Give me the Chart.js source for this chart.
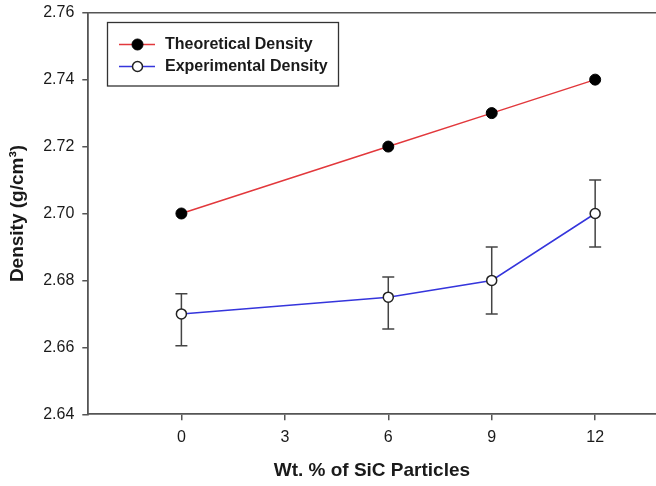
<!DOCTYPE html>
<html>
<head>
<meta charset="utf-8">
<script src="https://cdn.jsdelivr.net/npm/chart.js@4"></script>
<style>
  html, body { margin: 0; padding: 0; background: #fff; }
  #wrap { width: 656px; height: 486px; overflow: hidden; }
  #c { display: block; }
</style>
</head>
<body>
<div id="wrap"><canvas id="c" width="662" height="486"></canvas></div>
<script>
// SiC content (wt.%) and measured / calculated densities (g/cm3)
const sicContent = [0, 6, 9, 12];
const theoreticalDensity = [2.70, 2.72, 2.73, 2.74];
const experimentalDensity = [2.670, 2.675, 2.680, 2.700];
const experimentalLow = [2.6605, 2.6655, 2.670, 2.690];
const experimentalHigh = [2.676, 2.681, 2.690, 2.710];
const xTicks = [0, 3, 6, 9, 12];
const yTicks = [2.64, 2.66, 2.68, 2.70, 2.72, 2.74, 2.76];
const seriesNames = ['Theoretical Density', 'Experimental Density'];

const FONT = "Arial, 'Liberation Sans', Helvetica, sans-serif";
const AXIS = '#555';
const INK = '#1a1a1a';

// vertical error bars with caps, drawn under the markers
const errorBars = {
  id: 'errorBars',
  beforeDatasetsDraw(chart) {
    const { ctx, scales: { x, y } } = chart;
    ctx.save();
    ctx.strokeStyle = '#444';
    ctx.lineWidth = 1.5;
    sicContent.forEach((v, i) => {
      const px = x.getPixelForValue(v);
      const lo = y.getPixelForValue(experimentalLow[i]);
      const hi = y.getPixelForValue(experimentalHigh[i]);
      ctx.beginPath();
      ctx.moveTo(px, lo); ctx.lineTo(px, hi);
      ctx.moveTo(px - 6, lo); ctx.lineTo(px + 6, lo);
      ctx.moveTo(px - 6, hi); ctx.lineTo(px + 6, hi);
      ctx.stroke();
    });
    ctx.restore();
  }
};

// top frame line and the boxed legend in the upper-left corner
const frameAndLegend = {
  id: 'frameAndLegend',
  afterDraw(chart) {
    const { ctx, chartArea } = chart;
    ctx.save();
    ctx.strokeStyle = AXIS;
    ctx.lineWidth = 1.6;
    ctx.beginPath();
    ctx.moveTo(chartArea.left, chartArea.top);
    ctx.lineTo(chart.width, chartArea.top);
    ctx.stroke();

    const bx = 107.5, by = 22.5, bw = 231, bh = 63.5;
    ctx.fillStyle = '#fff';
    ctx.fillRect(bx, by, bw, bh);
    ctx.strokeStyle = '#333';
    ctx.lineWidth = 1.3;
    ctx.strokeRect(bx, by, bw, bh);

    const rows = [44.5, 66.5];
    chart.data.datasets.forEach((ds, i) => {
      const ry = rows[i];
      ctx.strokeStyle = ds.borderColor;
      ctx.lineWidth = ds.borderWidth;
      ctx.beginPath();
      ctx.moveTo(119, ry); ctx.lineTo(155, ry);
      ctx.stroke();
      ctx.beginPath();
      ctx.arc(137.5, ry, ds.pointRadius, 0, Math.PI * 2);
      ctx.fillStyle = ds.pointBackgroundColor;
      ctx.fill();
      ctx.strokeStyle = ds.pointBorderColor;
      ctx.lineWidth = ds.pointBorderWidth;
      ctx.stroke();
      ctx.fillStyle = INK;
      ctx.font = 'bold 16px ' + FONT;
      ctx.textBaseline = 'middle';
      ctx.textAlign = 'left';
      ctx.fillText(ds.label, 165, ry + 0.5);
    });
    ctx.restore();
  }
};

new Chart(document.getElementById('c'), {
  type: 'line',
  data: {
    datasets: [
      {
        label: seriesNames[0],
        data: sicContent.map((v, i) => ({ x: v, y: theoreticalDensity[i] })),
        borderColor: '#e2383c',
        borderWidth: 1.5,
        pointRadius: 5.5,
        pointBackgroundColor: '#000',
        pointBorderColor: '#000',
        pointBorderWidth: 1,
        tension: 0
      },
      {
        label: seriesNames[1],
        data: sicContent.map((v, i) => ({ x: v, y: experimentalDensity[i] })),
        borderColor: '#3535dc',
        borderWidth: 1.5,
        pointRadius: 5,
        pointBackgroundColor: '#fff',
        pointBorderColor: '#222',
        pointBorderWidth: 1.5,
        tension: 0
      }
    ]
  },
  options: {
    responsive: false,
    animation: false,
    layout: { padding: { top: 12.7, right: 0, left: 0, bottom: 0 } },
    plugins: { legend: { display: false }, tooltip: { enabled: false } },
    scales: {
      x: {
        type: 'linear',
        min: -2.7,
        max: 13.75,
        afterFit(scale) {
          scale.height = 71.7;
          scale.paddingLeft = 0; scale.paddingRight = 0;
        },
        afterBuildTicks(scale) { scale.ticks = xTicks.map(v => ({ value: v })); },
        grid: { drawOnChartArea: false, drawTicks: true, tickLength: 6, color: AXIS, lineWidth: 1.5 },
        border: { display: true, color: AXIS, width: 1.8 },
        ticks: { color: INK, font: { family: FONT, size: 16 }, padding: 8, maxRotation: 0 },
        title: {
          display: true,
          text: 'Wt. % of SiC Particles',
          color: INK,
          font: { family: FONT, size: 19, weight: 'bold' },
          padding: { top: 0, bottom: 3.5 }
        }
      },
      y: {
        min: 2.64,
        max: 2.76,
        afterFit(scale) {
          scale.width = 88.3;
          scale.paddingTop = 0; scale.paddingBottom = 0;
        },
        afterBuildTicks(scale) { scale.ticks = yTicks.map(v => ({ value: v })); },
        grid: { drawOnChartArea: false, drawTicks: true, tickLength: 6, color: AXIS, lineWidth: 1.5 },
        border: { display: true, color: AXIS, width: 1.8 },
        ticks: {
          color: INK,
          font: { family: FONT, size: 16 },
          padding: 8,
          callback: v => v.toFixed(2)
        },
        title: {
          display: true,
          text: 'Density (g/cm³)',
          color: INK,
          font: { family: FONT, size: 19, weight: 'bold' },
          padding: { top: 6.5, bottom: 0 }
        }
      }
    }
  },
  plugins: [errorBars, frameAndLegend]
});
</script>
</body>
</html>
